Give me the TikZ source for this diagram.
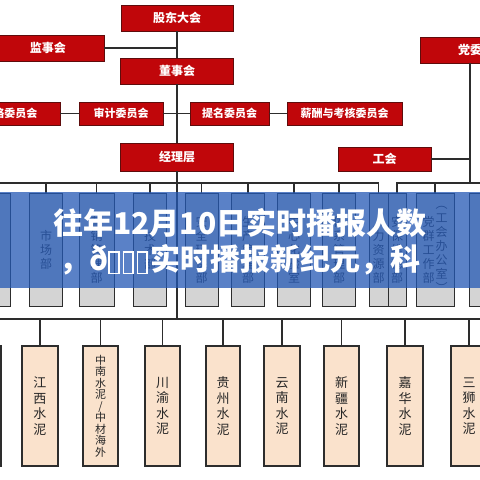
\documentclass[tikz,border=0pt]{standalone}
\usepackage{fontspec}
\setmainfont{Noto Sans CJK SC}
\usetikzlibrary{positioning}
\definecolor{boardred}{RGB}{192,6,10}
\definecolor{boardedge}{RGB}{95,12,12}
\definecolor{linegray}{RGB}{45,45,45}
\definecolor{deptgray}{RGB}{212,212,212}
\definecolor{firmbeige}{RGB}{250,226,204}
\definecolor{bannerblue}{RGB}{35,88,181}
\newcommand{\notdefbox}{\raisebox{-2pt}{\color{white}\fboxsep=0pt\fboxrule=1.6pt\fbox{\rule{0pt}{20pt}\hspace{8pt}}}\hspace{3pt}}

\begin{document}
\begin{tikzpicture}[x=1pt, y=-1pt,
  every node/.style={inner sep=0pt, outer sep=0pt},
  redbox/.style={draw=boardedge, line width=1pt, fill=boardred, text=white, rectangle, font=\bfseries\fontsize{12}{12}\selectfont},
  deptbox/.style={draw=linegray, line width=1pt, fill=deptgray, minimum width=33pt, minimum height=113pt, align=center, text=black!80, font=\fontsize{12}{14}\selectfont},
  firmbox/.style={draw=linegray, line width=1.2pt, fill=firmbeige, minimum width=36pt, minimum height=120pt, align=center, text=black!85, font=\fontsize{13}{15.5}\selectfont},
  link/.style={draw=linegray, line width=1.2pt},
  bannertext/.style={text=white, font=\bfseries\fontsize{30}{30}\selectfont}]
\useasboundingbox (0,0) rectangle (480,480);
\clip (0,0) rectangle (480,480);
\fill[white] (0,0) rectangle (480,480);

\node[redbox, minimum width=112pt, minimum height=26pt] (gudong) at (177,18) {股东大会};
\node[redbox, minimum width=112pt, minimum height=26pt] (jianshi) at (48,48) {监事会};
\node[redbox, minimum width=113pt, minimum height=26pt] (dongshi) at (177,71) {董事会};
\node[redbox, minimum width=100pt, minimum height=23pt, font=\bfseries\fontsize{11}{11}\selectfont] (zhanlue) at (10,113.5) {战略委员会};
\node[redbox, minimum width=84pt, minimum height=23pt, font=\bfseries\fontsize{11}{11}\selectfont] (shenji) at (121,113.5) {审计委员会};
\node[redbox, minimum width=79pt, minimum height=23pt, font=\bfseries\fontsize{11}{11}\selectfont] (timing) at (229.5,113.5) {提名委员会};
\node[redbox, minimum width=115pt, minimum height=23pt, font=\bfseries\fontsize{11}{11}\selectfont] (xinchou) at (344.5,113.5) {薪酬与考核委员会};
\node[redbox, minimum width=100pt, minimum height=26pt] (dangwei) at (470,50) {党委};
\node[redbox, minimum width=93pt, minimum height=24pt] (gonghui) at (384.5,159) {工会};
\node[redbox, minimum width=113pt, minimum height=28pt] (jingli) at (177,157) {经理层};

\coordinate (busA) at (0,183);
\coordinate (busB) at (480,183);
\coordinate (lowA) at (0,319);
\coordinate (lowB) at (480,319);

\draw[link] (gudong) -- (dongshi);
\draw[link] (jianshi.east) -- (jianshi.east -| gudong.south);
\draw[link] (dongshi) -- (jingli);
\draw[link] (zhanlue) -- (shenji);
\draw[link] (shenji) -- (timing);
\draw[link] (timing) -- (xinchou);
\draw[link] (dangwei.south) -- (dangwei.south |- busB);
\draw[link] (gonghui.east) -- (gonghui.east -| dangwei.south);

\node[deptbox] (jijian) at (-6,249.5) {︵\\纪\\检\\监\\察\\部\\︶};
\node[deptbox] (shichang) at (46,249.5) {市\\场\\部};
\node[deptbox, minimum width=35pt] (yingxiao) at (96.5,249.5) {营\\销\\管\\理\\部};
\node[deptbox] (jishu) at (150,249.5) {技\\术\\部};
\node[deptbox] (anquan) at (201.5,249.5) {安\\全\\环\\保\\部};
\node[deptbox] (shengchan) at (248,249.5) {生\\产\\管\\理\\部};
\node[deptbox] (zhongxin) at (294,249.5) {中\\心\\化\\验\\室};
\node[deptbox] (tixi) at (339,249.5) {体\\系\\管\\理\\部};
\node[deptbox, minimum width=19pt] (renli) at (378.5,249.5) {人\\力\\资\\源\\部};
\node[deptbox, minimum width=18pt] (weiwen) at (397,249.5) {安\\保\\维\\稳\\部};
\node[deptbox, minimum width=38pt] (dangqun) at (435,249.5) {\parbox[c]{13pt}{\centering 党\\群\\工\\作\\部}\parbox[c]{13pt}{\centering ︵\\工\\会\\办\\公\\室\\︶}};
\node[deptbox, minimum width=36pt] (qita) at (487,249.5) {};

\draw[link] (busA) -| (renli.north);
\draw[link] (busB) -| (weiwen.north);
\foreach \d in {jijian, shichang, yingxiao, jishu, anquan, shengchan, zhongxin, tixi}
  \draw[link] (\d.north) -- (\d.north |- busA);
\foreach \d in {dangqun, qita}
  \draw[link] (\d.north) -- (\d.north |- busB);

\draw[link] (jingli.south) -- (jingli.south |- lowA);
\draw[link] (lowA) -- (lowB);

\node[firmbox] (bianyuan) at (-17,406) {};
\node[firmbox] (jiangxi) at (40,406) {江\\西\\水\\泥};
\node[firmbox, minimum width=35pt, font=\fontsize{11}{11.5}\selectfont] (zhongnan) at (100.5,406) {中\\南\\水\\泥\\/\\中\\材\\海\\外};
\node[firmbox, minimum width=35pt] (chuanyu) at (162.5,406) {川\\渝\\水\\泥};
\node[firmbox, minimum width=34pt] (guizhou) at (223,406) {贵\\州\\水\\泥};
\node[firmbox] (yunnan) at (282,406) {云\\南\\水\\泥};
\node[firmbox, minimum width=35pt] (xinjiang) at (341.5,406) {新\\疆\\水\\泥};
\node[firmbox] (jiahua) at (405,406) {嘉\\华\\水\\泥};
\node[firmbox] (sanshi) at (469,406) {三\\狮\\水\\泥};

\foreach \f in {bianyuan, jiangxi, zhongnan, chuanyu, guizhou, yunnan, xinjiang, jiahua, sanshi}
  \draw[link] (\f.north) -- (\f.north |- lowA);

\fill[bannerblue, opacity=0.75] (0,192) rectangle (480,288);
\node[bannertext] (titleA) at (240,223) {往年12月10日实时播报人数};
\node[bannertext] (titleB) at (240,260) {，ð\notdefbox\notdefbox\notdefbox{}实时播报新纪元，科};
\end{tikzpicture}
\end{document}
